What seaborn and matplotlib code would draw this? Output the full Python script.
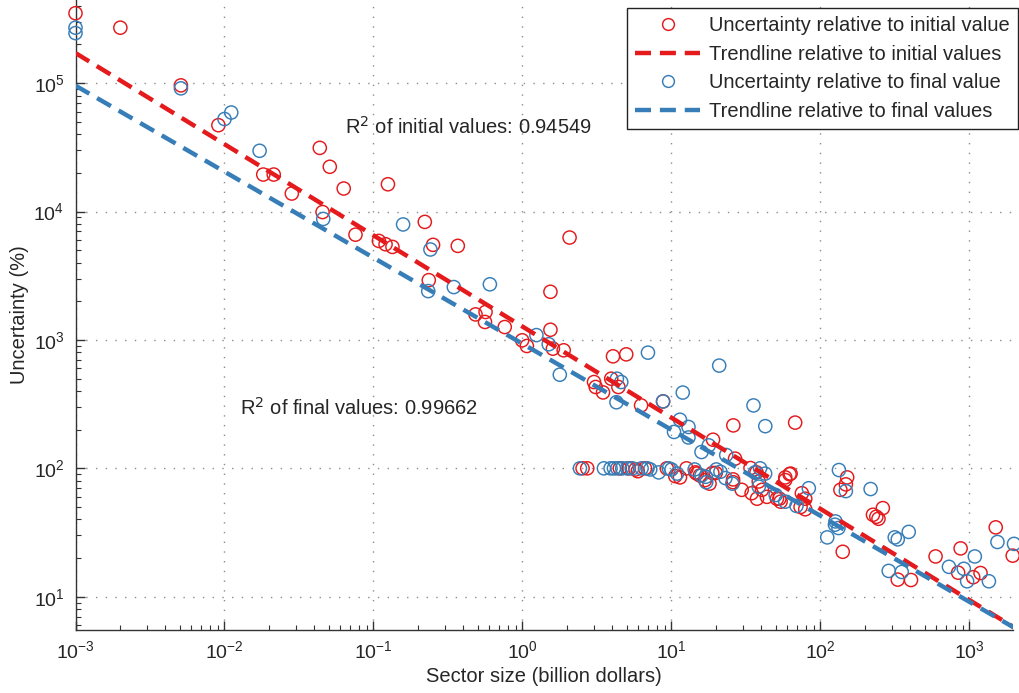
import numpy as np
import pandas as pd
import matplotlib
matplotlib.use("Agg")
import matplotlib.pyplot as plt
from matplotlib.lines import Line2D
from matplotlib.ticker import FixedLocator, LogFormatterSciNotation, NullFormatter
import seaborn as sns

# Sector size (billion dollars) and uncertainty (%) relative to initial values
init_size = [0.001, 0.002, 0.0051, 0.0091, 0.0182, 0.0214, 0.0283, 0.0436, 0.0509, 0.0631,
             0.0455, 0.0757, 0.1087, 0.1205, 0.134, 0.125, 0.221, 0.251, 0.235, 0.368,
             0.484, 0.565, 0.56, 0.76, 0.995, 1.07, 1.54, 1.54, 2.07, 1.6,
             1.89, 4.05, 4.97, 3.02, 3.1, 3.47, 3.94, 4.4, 6.25, 8.78,
             26.0, 67.6, 19.0, 26.7, 2.53, 2.72, 4.5, 5.17, 5.73, 5.94,
             6.64, 9.3, 10.6, 11.4, 12.6, 14.5, 14.8, 15.5, 16.8, 18.0,
             18.8, 19.8, 25.9, 25.9, 29.6, 34.5, 33.9, 37.2, 38.5, 40.5,
             43.7, 37.5, 54.0, 51.0, 63.0, 58.0, 62.0, 58.0, 75.0, 79.0,
             73.5, 79.0, 53.0, 151.0, 148.0, 136.0, 262.0, 225.0, 237.0, 245.0,
             141.0, 330.0, 405.0, 592.0, 872.0, 839.0, 1059.0, 1186.0, 1500.0, 1950.0]
init_unc = [3.5e5, 2.7e5, 9.6e4, 4.7e4, 1.94e4, 1.94e4, 1.38e4, 3.13e4, 2.23e4, 1.51e4,
            9.9e3, 6.6e3, 5.9e3, 5.56e3, 5.3e3, 1.63e4, 8.3e3, 5.5e3, 2.92e3, 5.4e3,
            1580, 1650, 1380, 1260, 993, 897, 2370, 1200, 6270, 855,
            830, 745, 772, 470, 430, 390, 499, 430, 309, 332,
            216, 227, 167, 119, 100, 100, 100, 100, 98, 95,
            100, 100, 87, 85, 100, 93, 91, 88, 81, 76,
            92, 92, 82, 78, 68, 64, 100.5, 93, 79, 68,
            60, 58, 55, 58, 91, 85, 90, 81, 64, 58,
            50, 48, 58, 85, 75, 68, 49, 43.5, 42, 40.5,
            22.4, 13.6, 13.5, 20.6, 23.8, 15.4, 14.2, 15.3, 34.7, 20.9]

# Sector size (billion dollars) and uncertainty (%) relative to final values
final_size = [0.001, 0.001, 0.0051, 0.01, 0.0111, 0.0172, 0.046, 0.158, 0.241, 0.233,
              0.346, 0.604, 1.24, 1.5, 1.78, 6.95, 20.9, 4.3, 4.6, 4.27,
              8.78, 11.9, 35.5, 42.6, 11.4, 13.0, 10.4, 13.0, 17.8, 15.9,
              23.3, 2.43, 3.52, 3.9, 4.11, 4.33, 4.67, 5.04, 5.46, 6.3,
              6.9, 7.2, 8.2, 9.6, 10.0, 10.9, 14.3, 15.9, 17.0, 17.1,
              20.0, 21.3, 23.0, 25.6, 39.3, 36.3, 42.5, 38.5, 50.0, 58.0,
              83.5, 69.0, 133.0, 148.0, 217.0, 126.0, 125.0, 132.0, 111.0, 315.0,
              330.0, 391.0, 287.0, 351.0, 728.0, 916.0, 964.0, 1086.0, 1350.0, 1540.0,
              1990.0]
final_unc = [2.7e5, 2.45e5, 9.1e4, 5.25e4, 5.9e4, 2.97e4, 8.75e3, 7.93e3, 5.06e3, 2.4e3,
             2.58e3, 2.71e3, 1090, 925, 536, 796, 631, 499, 470, 327,
             332, 389, 309, 213, 239, 210, 192, 174, 151, 134,
             127, 100, 100, 100, 100, 100, 100, 100, 100, 100,
             100, 98, 93, 100, 98, 91, 98, 88, 86, 78,
             98, 94, 84, 76, 100, 93, 91, 72, 62, 55,
             70, 51, 97, 66.5, 69, 38.6, 36.4, 34.3, 29, 29,
             28, 32, 15.9, 15.6, 17.1, 16.5, 13.2, 20.6, 13.2, 26.7,
             25.8]

# Power-law trendlines: log10(U) = intercept + slope * log10(size)
trend_init = (3.104, -0.71)
trend_final = (2.97, -0.67)
r2_init = "0.94549"
r2_final = "0.99662"

# Decades carrying labelled ticks
x_decades = [-3, -2, -1, 0, 1, 2, 3]
y_decades = [1, 2, 3, 4, 5]

labels = ["Uncertainty relative to initial value",
          "Trendline relative to initial values",
          "Uncertainty relative to final value",
          "Trendline relative to final values"]

RED = "#e41a1c"
BLUE = "#377eb8"
TXT = "#262626"

sns.set_theme(style="white")
plt.rcParams["font.family"] = ["Liberation Sans", "DejaVu Sans"]
plt.rcParams["text.color"] = TXT
plt.rcParams["axes.labelcolor"] = TXT
plt.rcParams["xtick.color"] = TXT
plt.rcParams["ytick.color"] = TXT

W, H = 1019, 693
fig = plt.figure(figsize=(W / 100, H / 100), dpi=100)
left, right, top, bottom = 75.5, 1013, 0, 629.5
ax = fig.add_axes([left / W, 1 - bottom / H, (right - left) / W, (bottom - top) / H])

xlim = (1e-3, 10 ** 3.292)
ylim = (10 ** 0.745, 10 ** 5.647)
ax.set_xscale("log")
ax.set_yscale("log")

df_i = pd.DataFrame({"size": init_size, "unc": init_unc})
df_f = pd.DataFrame({"size": final_size, "unc": final_unc})
xfit = np.logspace(np.log10(xlim[0]), np.log10(xlim[1]) + 0.05, 200)
fit_i = pd.DataFrame({"size": xfit, "unc": 10 ** (trend_init[0] + trend_init[1] * np.log10(xfit))})
fit_f = pd.DataFrame({"size": xfit, "unc": 10 ** (trend_final[0] + trend_final[1] * np.log10(xfit))})

dash = (0, (3.6, 2.0))
lw = 3.2


def hollow(data, color):
    sns.scatterplot(data=data, x="size", y="unc", ax=ax, marker="o", s=90,
                    linewidth=1.05, zorder=3, clip_on=False)
    coll = ax.collections[-1]
    coll.set_facecolor("none")
    coll.set_edgecolor(color)


hollow(df_i, RED)
sns.lineplot(data=fit_i, x="size", y="unc", ax=ax, color=RED, linewidth=lw,
             linestyle=dash, zorder=4)
hollow(df_f, BLUE)
sns.lineplot(data=fit_f, x="size", y="unc", ax=ax, color=BLUE, linewidth=lw,
             linestyle=dash, zorder=5)

ax.set_xlim(*xlim)
ax.set_ylim(*ylim)

ax.grid(True, which="major", color="#8c8c8c", linestyle=(0, (1, 6)), linewidth=1.0)
ax.grid(False, which="minor")
for s in ["top", "right"]:
    ax.spines[s].set_visible(False)
for s in ["left", "bottom"]:
    ax.spines[s].set_color("#333333")
    ax.spines[s].set_linewidth(1.0)


def minor_ticks(lo, hi, lim):
    vals = [m * 10.0 ** d for d in range(lo, hi + 1) for m in range(2, 10)]
    return [v for v in vals if lim[0] <= v <= lim[1]]


ax.xaxis.set_major_locator(FixedLocator([10.0 ** d for d in x_decades]))
ax.yaxis.set_major_locator(FixedLocator([10.0 ** d for d in y_decades]))
ax.xaxis.set_minor_locator(FixedLocator(minor_ticks(-3, 3, xlim)))
ax.yaxis.set_minor_locator(FixedLocator(minor_ticks(0, 5, ylim)))
ax.xaxis.set_major_formatter(LogFormatterSciNotation())
ax.yaxis.set_major_formatter(LogFormatterSciNotation())
ax.xaxis.set_minor_formatter(NullFormatter())
ax.yaxis.set_minor_formatter(NullFormatter())
ax.tick_params(which="major", direction="in", length=6.5, width=1, color="#333333",
               labelsize=14, pad=8, bottom=True, left=True)
ax.tick_params(which="minor", direction="in", length=3.5, width=0.8, color="#333333",
               bottom=True, left=True)

ax.set_xlabel("Sector size (billion dollars)", fontsize=14.5)
ax.set_ylabel("Uncertainty (%)", fontsize=14.5)
ax.xaxis.set_label_coords(0.5, -(676 - 629.5) / (bottom - top), transform=ax.transAxes)
ax.yaxis.set_label_coords(-(left - 19) / (right - left), 0.5, transform=ax.transAxes)
ax.xaxis.label.set_va("center")
ax.yaxis.label.set_va("center")

ax.text(0.0644, 4.56e4, "R$^2$ of initial values: " + r2_init, fontsize=14.5,
        ha="left", va="center", color=TXT)
ax.text(0.0127, 294, "R$^2$ of final values: " + r2_final, fontsize=14.5,
        ha="left", va="center", color=TXT)

handles = [
    Line2D([], [], marker="o", linestyle="none", markerfacecolor="none",
           markeredgecolor=RED, markersize=8.5, markeredgewidth=1.05),
    Line2D([], [], color=RED, linewidth=lw, linestyle=dash),
    Line2D([], [], marker="o", linestyle="none", markerfacecolor="none",
           markeredgecolor=BLUE, markersize=8.5, markeredgewidth=1.05),
    Line2D([], [], color=BLUE, linewidth=lw, linestyle=dash),
]
leg = fig.legend(handles, labels, loc="upper right",
                 bbox_to_anchor=(1018 / W, 1 - 8 / H), bbox_transform=fig.transFigure,
                 fontsize=14.5, frameon=True, fancybox=False, framealpha=1,
                 edgecolor="#222222", borderaxespad=0, handlelength=3.2,
                 handletextpad=0.45, labelspacing=0.47, borderpad=0.42)
leg.get_frame().set_linewidth(1.0)

fig.savefig("out.png", dpi=100)
